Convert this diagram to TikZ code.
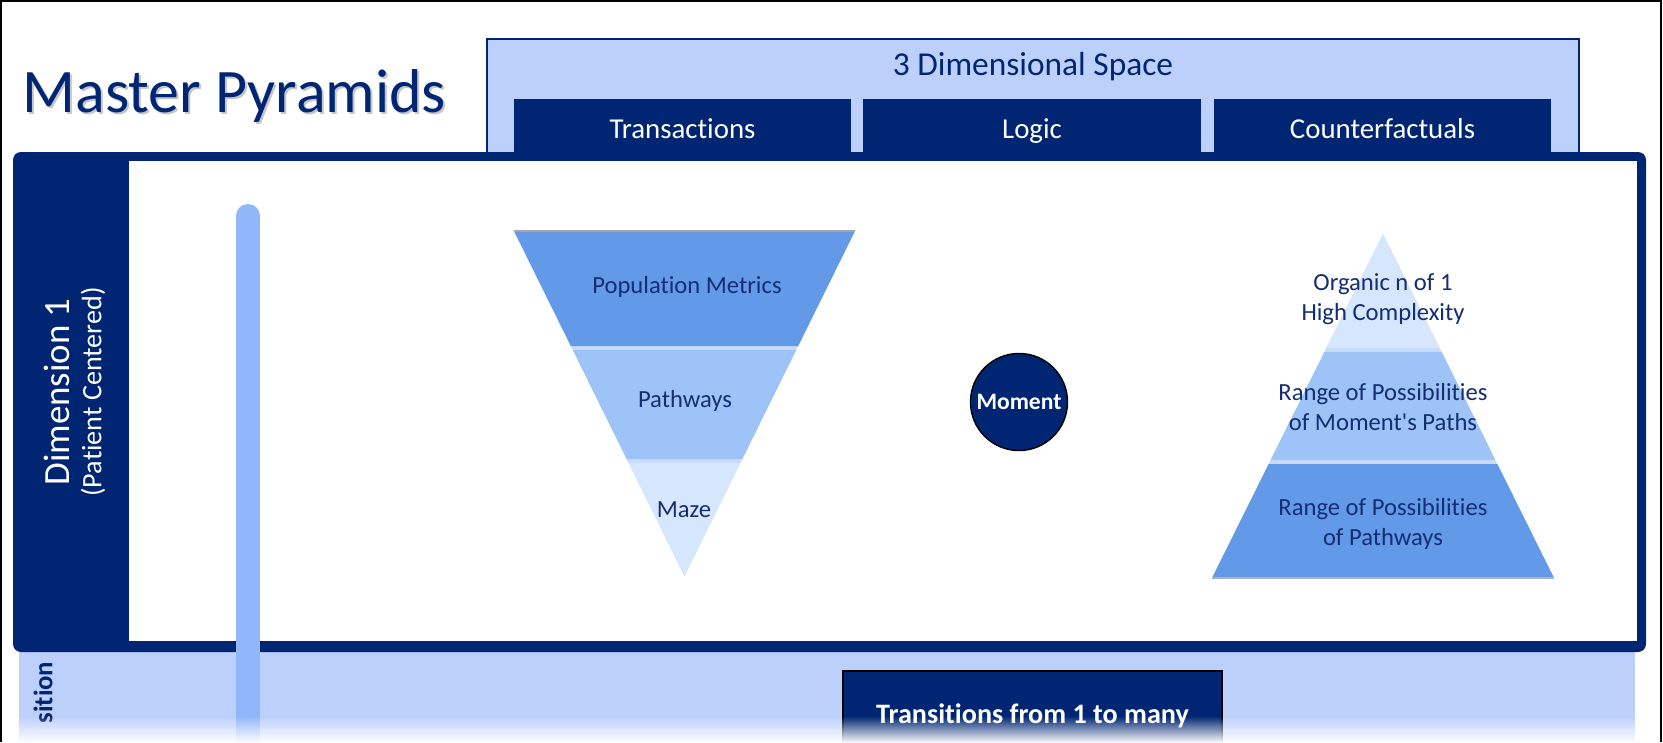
\documentclass[tikz,border=0pt]{standalone}
\usepackage{fontspec}
\setmainfont{Carlito}[Ligatures={NoCommon,TeXOff}]
\usetikzlibrary{calc,fadings,positioning}
\definecolor{navy}{RGB}{0,38,115}
\definecolor{paleblue}{RGB}{189,208,251}
\definecolor{barblue}{RGB}{146,182,250}
\definecolor{pyrdark}{RGB}{98,154,232}
\definecolor{pyrmid}{RGB}{158,196,247}
\definecolor{pyrlight}{RGB}{214,230,253}
\definecolor{pyrsep}{RGB}{200,220,250}
\definecolor{pyrtext}{RGB}{20,45,115}

\begin{document}
\begin{tikzpicture}[x=0.01cm,y=-0.01cm,
    tab/.style={fill=navy,text=white,inner sep=0pt,minimum width=3.37cm,minimum height=0.6cm,
      text height=1.6ex,text depth=0.5ex,font=\fontsize{8.2}{10}\selectfont},
    pyrlabel/.style={text=pyrtext,align=center,inner sep=0pt,font=\fontsize{7}{8.5}\selectfont}]
    \useasboundingbox (0,0) rectangle (1663,742);
    \clip (0,0) rectangle (1663,742);
    % 3 dimensional space header
    \fill[paleblue,draw=navy,line width=0.4pt] (487,39) rectangle (1579,160);
    \node[text=navy,font=\fontsize{9.5}{11}\selectfont] (space) at (1033,67) {3 Dimensional Space};
    \foreach \x/\name/\txt in {682.5/trans/Transactions,1032/logic/Logic,1382.5/cf/Counterfactuals}
      \node[tab] (\name) at (\x,129) {\txt};
    % band below the frame
    \fill[paleblue] (19,645) rectangle (1635,742);
    \node[draw=black,line width=0.4pt,fill=navy,text=white,minimum width=3.79cm,minimum height=0.9cm,
      font=\bfseries\fontsize{8}{10}\selectfont] (many) at (1032.5,716) {Transitions from 1 to many};
    % main frame
    \fill[navy,rounded corners=0.08cm] (13,152) rectangle (1646,652);
    \fill[white] (129,161) rectangle (1637,641);
    \node[rotate=90,text=white,font=\fontsize{10.5}{12}\selectfont] (dim) at (57,392) {Dimension 1};
    \node[rotate=90,text=white,font=\fontsize{8}{10}\selectfont] (dimsub) at (93,392) {(Patient Centered)};
    % inverted pyramid
    \coordinate (invL) at (514,231);
    \coordinate (invR) at (855,231);
    \coordinate (invA) at (684.5,576);
    \fill[pyrsep] (invL) -- (invR) -- (invA) -- cycle;
    \foreach \ya/\yb/\col in {231/346/pyrdark,350/459/pyrmid,463/576/pyrlight}
      \fill[\col] ($(invA)!{(576-\ya)/345}!(invL)$) -- ($(invA)!{(576-\ya)/345}!(invR)$)
        -- ($(invA)!{(576-\yb)/345}!(invR)$) -- ($(invA)!{(576-\yb)/345}!(invL)$) -- cycle;
    \draw[gray!70,line width=0.5pt] (invL) -- (invR);
    \node[pyrlabel] (metrics) at (687,287) {Population Metrics};
    \node[pyrlabel] (paths) at (685,401) {Pathways};
    \node[pyrlabel] (maze) at (684,510) {Maze};
    % moment
    \node[circle,fill=navy,draw=black,line width=0.4pt,minimum size=0.97cm,inner sep=0pt,text=white,
      font=\bfseries\fontsize{6.7}{8}\selectfont] (moment) at (1019,402) {Moment};
    % upright pyramid
    \coordinate (upL) at (1212,578);
    \coordinate (upR) at (1554,578);
    \coordinate (upA) at (1383,234);
    \fill[pyrsep] (upL) -- (upR) -- (upA) -- cycle;
    \foreach \ya/\yb/\col in {234/348/pyrlight,352/460/pyrmid,464/578/pyrdark}
      \fill[\col] ($(upA)!{(\ya-234)/344}!(upL)$) -- ($(upA)!{(\ya-234)/344}!(upR)$)
        -- ($(upA)!{(\yb-234)/344}!(upR)$) -- ($(upA)!{(\yb-234)/344}!(upL)$) -- cycle;
    \draw[gray!60,line width=0.5pt] (upL) -- (upR);
    \node[pyrlabel] (organic) at (1383,299) {Organic n of 1\\High Complexity};
    \node[pyrlabel] (moments) at (1383,407) {Range of Possibilities\\of Moment's Paths};
    \node[pyrlabel] (ranges) at (1383,524) {Range of Possibilities\\of Pathways};
    % vertical bar
    \coordinate (bartop) at (248,216);
    \coordinate (barend) at (248,760);
    \draw[barblue,line width=0.24cm,line cap=round] (bartop) -- (barend);
    \node[rotate=90,anchor=east,inner sep=0pt,text=navy,font=\bfseries\fontsize{7.6}{8}\selectfont]
      (sition) at (43,661) {sition};
    % fade at the bottom
    \fill[white,path fading=north] (0,716) rectangle (1663,743);
    % outer edge
    \draw[black,line width=0.02cm] (1,742) -- (1,1) -- (1661,1) -- (1661,742);
    % title
    \node[anchor=base west,inner sep=0pt,text=gray!45,font=\fontsize{17.6}{21}\selectfont] (shadow) at (24,114) {Master Pyramids};
    \node[anchor=base west,inner sep=0pt,text=navy,font=\fontsize{17.6}{21}\selectfont] (title) at (22,112) {Master Pyramids};
  \end{tikzpicture}
\end{document}
